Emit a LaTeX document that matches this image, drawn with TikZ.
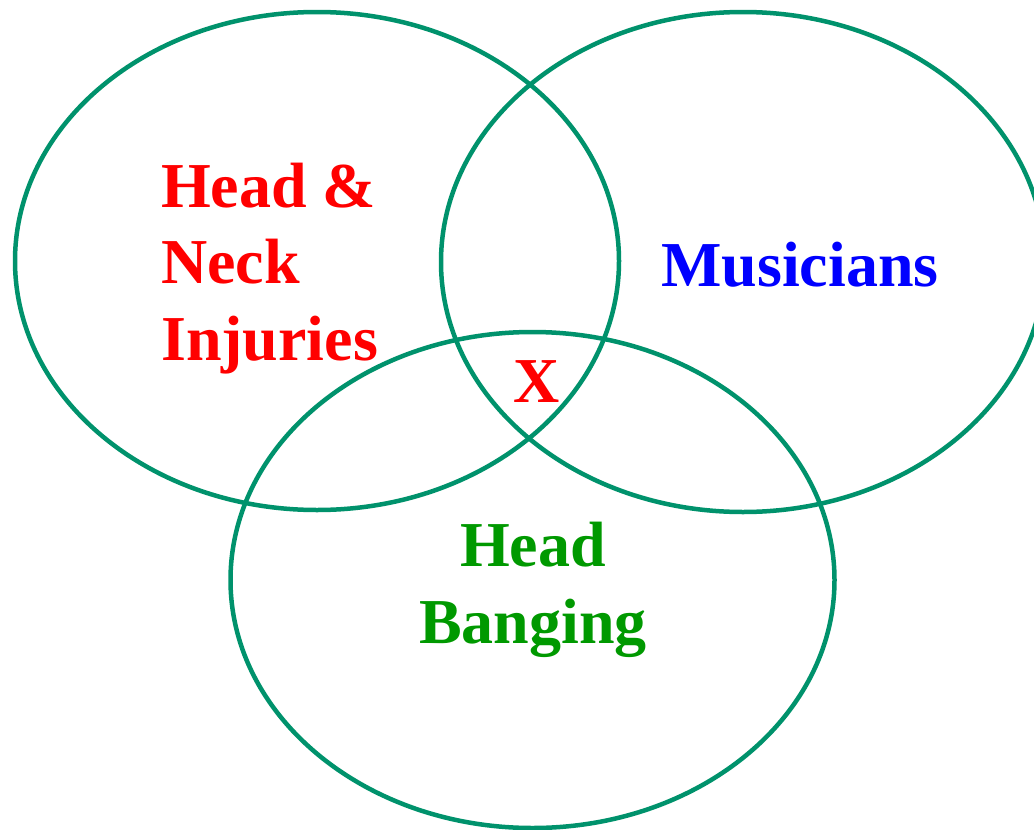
\documentclass[tikz,border=0pt]{standalone}
\usepackage{fontspec}
\setmainfont{Liberation Serif}
\definecolor{ring}{RGB}{0,146,108}
\definecolor{hbgreen}{RGB}{0,153,0}
\begin{document}
\begin{tikzpicture}[x=1pt,y=-1pt,
  ring/.style={draw=ring,line width=4.5pt},
  lbl/.style={inner sep=0pt,font=\fontsize{64}{76.5}\selectfont\bfseries}]
\useasboundingbox (0,0) rectangle (1034,830);
\fill[white] (0,0) rectangle (1034,830);
\draw[ring] (317,261) ellipse [x radius=302, y radius=249];
\draw[ring] (743,262) ellipse [x radius=302, y radius=250];
\draw[ring] (532.5,580) ellipse [x radius=302, y radius=248];
\node[lbl,red,align=left,anchor=base west] (hn) at (161,360) {Head \&\\Neck\\Injuries};
\node[lbl,blue,anchor=base west] (mu) at (661,286) {Musicians};
\node[lbl,red,anchor=base] (x) at (537,402) {X};
\node[lbl,hbgreen,align=center,anchor=base] (hb) at (533,643) {Head\\Banging};
\end{tikzpicture}
\end{document}
